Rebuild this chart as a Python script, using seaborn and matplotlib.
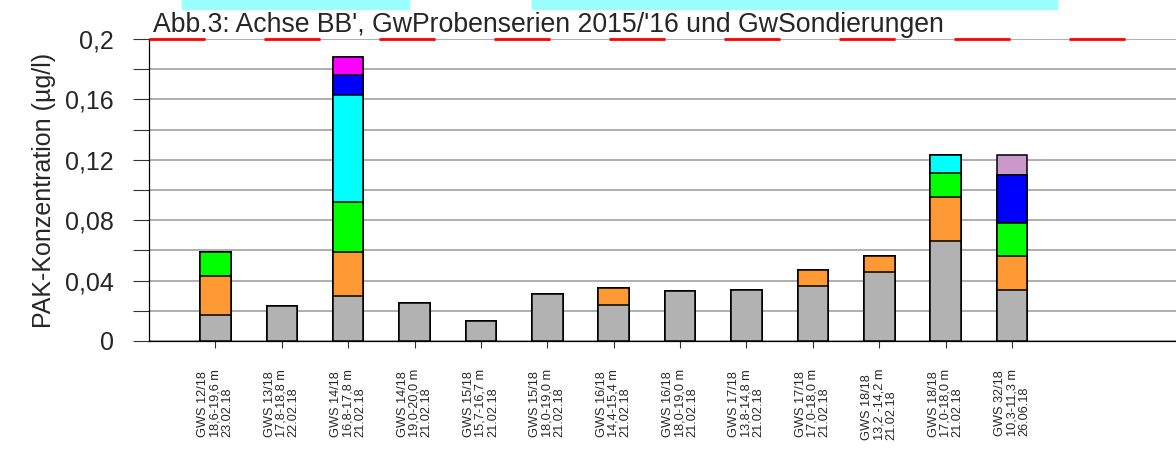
import numpy as np
import pandas as pd
import matplotlib
matplotlib.use('Agg')
import matplotlib.pyplot as plt
from matplotlib.patches import Rectangle
import seaborn as sns

# sample labels (x axis)
labels = ['GWS 12/18\n18,6-19,6 m\n23.02.18',
          'GWS 13/18\n17,8-18,8 m\n22.02.18',
          'GWS 14/18\n16,8-17,8 m\n21.02.18',
          'GWS 14/18\n19,0-20,0 m\n21.02.18',
          'GWS 15/18\n15,7-16,7 m\n21.02.18',
          'GWS 15/18\n18,0-19,0 m\n21.02.18',
          'GWS 16/18\n14,4-15,4 m\n21.02.18',
          'GWS 16/18\n18,0-19,0 m\n21.02.18',
          'GWS 17/18\n13,8-14,8 m\n21.02.18',
          'GWS 17/18\n17,0-18,0 m\n21.02.18',
          'GWS 18/18\n13,2 -14,2 m\n21.02.18',
          'GWS 18/18\n17,0-18,0 m\n21.02.18',
          'GWS 32/18\n10,3-11,3 m\n26.06.18']

# stacked segments in ug/l, bottom to top
grau = [0.017, 0.023, 0.030, 0.025, 0.013, 0.031, 0.024, 0.033, 0.034, 0.0365, 0.0455, 0.066, 0.0335]
orange = [0.026, 0, 0.029, 0, 0, 0, 0.011, 0, 0, 0.0105, 0.0105, 0.0295, 0.023]
gruen = [0.016, 0, 0.033, 0, 0, 0, 0, 0, 0, 0, 0, 0.016, 0.0215]
cyan = [0, 0, 0.071, 0, 0, 0, 0, 0, 0, 0, 0, 0.012, 0]
blau = [0, 0, 0.013, 0, 0, 0, 0, 0, 0, 0, 0, 0, 0.032]
magenta = [0, 0, 0.012, 0, 0, 0, 0, 0, 0, 0, 0, 0, 0]
lila = [0, 0, 0, 0, 0, 0, 0, 0, 0, 0, 0, 0, 0.0135]

series = [grau, orange, gruen, cyan, blau, magenta, lila]
farben = ['#b2b2b2', '#ff9933', '#00ff00', '#00ffff', '#0000ff', '#ff00ff', '#cc99cc']

grenzwert = 0.2
yticks = [0, 0.04, 0.08, 0.12, 0.16, 0.2]
yticklabels = ['0', '0,04', '0,08', '0,12', '0,16', '0,2']

sns.set_style('white')
plt.rcParams['font.family'] = ['Liberation Sans', 'DejaVu Sans']

fig = plt.figure(figsize=(11.76, 4.5), dpi=100)
ax = fig.add_axes([149 / 1176, 1 - 341 / 450, 1 - 149 / 1176, (341 - 39) / 450])

# stacked bars: draw cumulative totals from top layer down
kum = np.cumsum(np.array(series), axis=0)
for i in range(len(series) - 1, -1, -1):
    df = pd.DataFrame({'probe': labels, 'wert': kum[i]})
    sns.barplot(data=df, x='probe', y='wert', order=labels, color=farben[i],
                saturation=1, width=0.46, edgecolor='black', linewidth=1.1,
                ax=ax, zorder=3)

ax.set_xlim(-1, 14.47)
ax.set_ylim(0, 0.2)
ax.set_yticks(yticks)
ax.set_yticklabels(yticklabels, fontsize=18)
ax.set_yticks(np.arange(0, 0.201, 0.02), minor=True)
ax.grid(True, axis='y', which='both', color='#a8a8a8', linewidth=1.3, zorder=0)
ax.set_axisbelow(True)
ax.tick_params(axis='y', which='both', direction='out', length=11.5, width=0.8,
               color='#333333', pad=14, left=True)
ax.tick_params(axis='x', direction='out', length=5, width=0.8, color='#333333',
               pad=15, bottom=True)
ax.set_xticks(range(len(labels)))
ax.set_xticklabels(labels, rotation=90, fontsize=9.2, ha='center', va='top',
                   multialignment='left', linespacing=1.0)
ax.set_xlabel('')
ax.set_ylabel('PAK-Konzentration (µg/l)', fontsize=18, labelpad=6)
for s in ['top', 'right']:
    ax.spines[s].set_visible(False)
for s in ['left', 'bottom']:
    ax.spines[s].set_color('black')
    ax.spines[s].set_linewidth(0.9)

# limit line
ax.axhline(grenzwert, color='red', linewidth=2.0, linestyle=(0, (20.2, 21.2)),
           zorder=4, clip_on=False)

# cyan highlight marks at the top edge
for x0, x1 in [(182, 409), (532, 1057)]:
    fig.patches.append(Rectangle((x0 / 1176, 1 - 9 / 450), (x1 - x0) / 1176, 9 / 450,
                                 transform=fig.transFigure, color='#99ffff',
                                 zorder=0))

fig.text(153 / 1176, 1 - 32 / 450,
         "Abb.3: Achse BB', GwProbenserien 2015/'16 und GwSondierungen",
         fontsize=19.2, va='baseline', ha='left')

fig.savefig('out.png', dpi=100)
